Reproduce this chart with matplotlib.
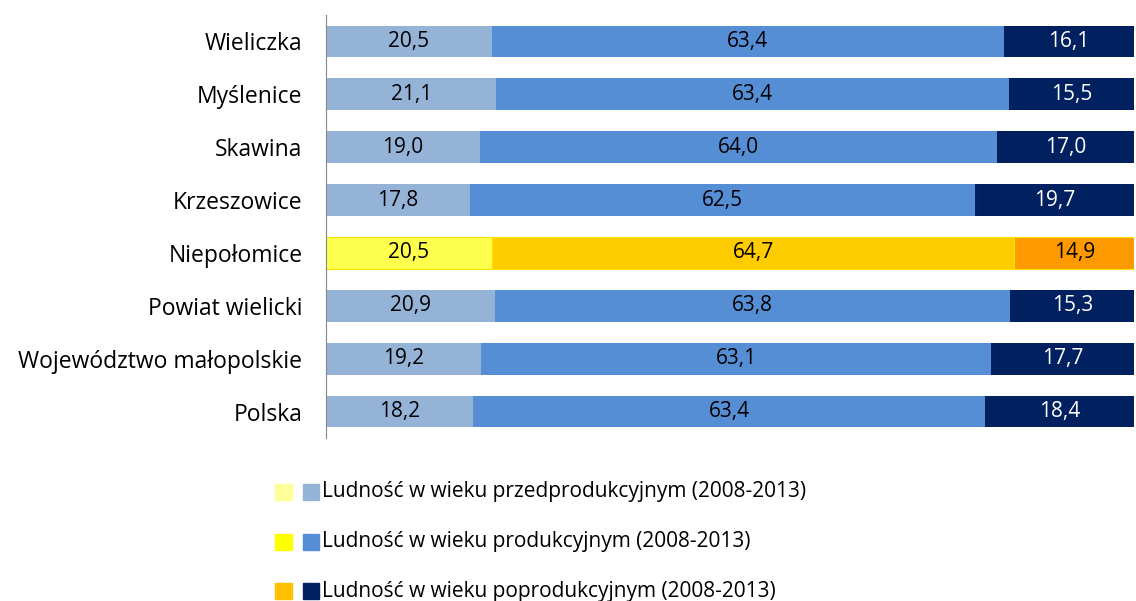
import numpy as np
import matplotlib.pyplot as plt
from matplotlib.patches import Rectangle

plt.rcParams['font.family'] = ['Open Sans', 'DejaVu Sans']

regions = ['Wieliczka', 'Myślenice', 'Skawina', 'Krzeszowice', 'Niepołomice',
           'Powiat wielicki', 'Województwo małopolskie', 'Polska']
pre = [20.5, 21.1, 19.0, 17.8, 20.5, 20.9, 19.2, 18.2]
prod = [63.4, 63.4, 64.0, 62.5, 64.7, 63.8, 63.1, 63.4]
post = [16.1, 15.5, 17.0, 19.7, 14.9, 15.3, 17.7, 18.4]
series_names = ['Ludność w wieku przedprodukcyjnym (2008-2013)',
                'Ludność w wieku produkcyjnym (2008-2013)',
                'Ludność w wieku poprodukcyjnym (2008-2013)']

blues = ['#95B3D7', '#558ED5', '#002060']
yellows = ['#FFFF4D', '#FFCC00', '#FF9900']
legend_yellows = ['#FFFF99', '#FFFF00', '#FFC000']
highlight = 'Niepołomice'

fig = plt.figure(figsize=(11.36, 6.01), dpi=100)
ax = fig.add_axes([326/1136, 1-438/601, (1134-326)/1136, 423/601])

y = np.arange(len(regions))
data = [pre, prod, post]
left = np.zeros(len(regions))
for k, vals in enumerate(data):
    vals = np.array(vals)
    cols = [yellows[k] if r == highlight else blues[k] for r in regions]
    edges = ['#FFE000' if r == highlight else 'none' for r in regions]
    bars = ax.barh(y, vals, left=left, height=0.6, color=cols, edgecolor=edges, linewidth=0.8)
    for i, b in enumerate(bars):
        tc = 'white' if (k == 2 and regions[i] != highlight) else 'black'
        ax.text(left[i] + vals[i]/2, y[i], f'{vals[i]:.1f}'.replace('.', ','),
                ha='center', va='center', fontsize=15, color=tc)
    left += vals

ax.set_xlim(0, 100)
ax.set_ylim(len(regions) - 0.5, -0.5)
ax.set_yticks(y)
ax.set_yticklabels(regions, fontsize=16.5)
ax.tick_params(axis='y', length=0, pad=17)
ax.set_xticks([])
for s in ['top', 'right', 'bottom']:
    ax.spines[s].set_visible(False)
ax.spines['left'].set_color('#868686')

# legend: two colour swatches per entry
for j, name in enumerate(series_names):
    yc = 492 + j*49.5
    fig.patches.append(Rectangle((275/1136, 1-(yc+8)/601), 17/1136, 16/601,
                                 transform=fig.transFigure, color=legend_yellows[j]))
    fig.patches.append(Rectangle((303/1136, 1-(yc+8)/601), 16/1136, 16/601,
                                 transform=fig.transFigure, color=blues[j]))
    fig.text(322/1136, 1-yc/601, name, fontsize=15, va='center', ha='left')

fig.savefig('out.png', dpi=100)
